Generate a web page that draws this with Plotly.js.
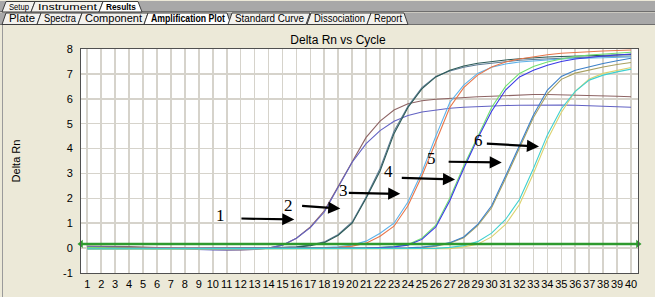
<!DOCTYPE html>
<html>
<head>
<meta charset="utf-8">
<script src="https://cdn.plot.ly/plotly-3.0.1.min.js"></script>
<style>
  html, body { margin:0; padding:0; background:#ECE9D8; }
  #wrap { position:relative; width:655px; height:297px; overflow:hidden; }
  #chart { position:absolute; left:0; top:0; width:655px; height:297px; }
  #chrome { position:absolute; left:0; top:0; pointer-events:none; }
</style>
</head>
<body>
<div id="wrap">
  <div id="chart"></div>
  <svg id="chrome" width="655" height="297" xmlns="http://www.w3.org/2000/svg"></svg>
</div>
<script>
// ---------------- DATA ----------------
const cycles = [1,2,3,4,5,6,7,8,9,10,11,12,13,14,15,16,17,18,19,20,21,22,23,24,25,26,27,28,29,30,31,32,33,34,35,36,37,38,39,40];
const tickLabels = ['1','2','3','4','5','6','7','8','9','10','11','12','13','14','15','16','17','18','19','20','21','22','23','24','25','26','27','28','29','30','31','32','33','34','35','36','37','38','39','40'];

const g1Brown  = [0.08,0.08,0.07,0.06,0.04,0.02,0.00,-0.03,-0.05,-0.06,-0.07,-0.07,-0.05,0.00,0.12,0.40,0.85,1.50,2.50,3.50,4.45,5.10,5.55,5.80,5.92,5.98,6.02,6.05,6.08,6.10,6.13,6.16,6.17,6.17,6.16,6.15,6.14,6.12,6.10,6.08];
const g1Purple = [0.05,0.05,0.04,0.03,0.02,0.00,-0.02,-0.04,-0.06,-0.07,-0.07,-0.06,-0.05,0.00,0.12,0.40,0.82,1.45,2.45,3.45,4.20,4.72,5.10,5.33,5.47,5.56,5.62,5.66,5.69,5.71,5.73,5.74,5.75,5.75,5.75,5.74,5.72,5.70,5.68,5.66];
const g2Dark   = [0.02,0.02,0.01,0.00,-0.01,-0.02,-0.02,-0.02,-0.02,-0.02,-0.01,0.00,0.00,0.01,0.02,0.04,0.10,0.22,0.52,1.00,2.00,3.10,4.60,5.65,6.40,6.88,7.15,7.32,7.43,7.50,7.56,7.61,7.65,7.68,7.70,7.72,7.74,7.76,7.77,7.78];
const g2Slate  = [0.03,0.03,0.02,0.01,0.00,-0.01,-0.02,-0.02,-0.02,-0.01,-0.01,0.00,0.01,0.01,0.03,0.05,0.12,0.25,0.55,1.05,2.05,3.20,4.70,5.70,6.45,6.90,7.12,7.27,7.37,7.44,7.50,7.55,7.58,7.61,7.64,7.66,7.68,7.70,7.71,7.72];
const g3Orange = [0.00,0.00,-0.01,-0.01,-0.02,-0.02,-0.02,-0.02,-0.02,-0.02,-0.02,-0.02,-0.02,-0.02,-0.01,-0.01,0.00,0.01,0.03,0.08,0.20,0.48,0.88,1.70,2.90,4.30,5.65,6.45,6.95,7.28,7.48,7.60,7.70,7.77,7.83,7.87,7.90,7.92,7.94,7.96];
const g3Sky    = [-0.01,-0.01,-0.01,-0.02,-0.02,-0.02,-0.02,-0.02,-0.02,-0.02,-0.02,-0.02,-0.01,-0.01,-0.01,0.00,0.01,0.02,0.05,0.12,0.28,0.60,1.00,1.85,3.05,4.50,5.85,6.55,7.02,7.27,7.40,7.48,7.53,7.57,7.60,7.62,7.64,7.66,7.67,7.68];
const g4Blue   = [-0.02,-0.02,-0.02,-0.02,-0.03,-0.03,-0.03,-0.03,-0.03,-0.03,-0.03,-0.03,-0.03,-0.03,-0.03,-0.03,-0.02,-0.02,-0.02,-0.01,0.00,0.02,0.05,0.12,0.35,0.85,1.90,3.20,4.40,5.50,6.35,6.88,7.15,7.35,7.50,7.60,7.67,7.72,7.76,7.80];
const g4Green  = [0.02,0.02,0.01,0.00,-0.01,-0.02,-0.02,-0.02,-0.02,-0.02,-0.02,-0.02,-0.02,-0.02,-0.02,-0.02,-0.01,-0.01,0.00,0.00,0.01,0.03,0.07,0.15,0.40,0.92,2.00,3.30,4.50,5.65,6.50,7.02,7.30,7.48,7.60,7.70,7.76,7.80,7.84,7.87];
const g5Steel  = [-0.02,-0.02,-0.02,-0.02,-0.02,-0.02,-0.02,-0.02,-0.02,-0.02,-0.02,-0.02,-0.02,-0.02,-0.02,-0.02,-0.02,-0.02,-0.01,-0.01,-0.01,0.00,0.00,0.01,0.04,0.10,0.22,0.45,0.95,1.70,2.90,4.10,5.35,6.35,6.90,7.15,7.30,7.42,7.53,7.63];
const g5Khaki  = [-0.03,-0.03,-0.03,-0.03,-0.03,-0.03,-0.03,-0.03,-0.03,-0.03,-0.03,-0.03,-0.03,-0.03,-0.03,-0.03,-0.03,-0.03,-0.03,-0.02,-0.02,-0.02,-0.01,0.00,0.02,0.08,0.20,0.42,0.90,1.62,2.80,4.00,5.25,6.20,6.78,7.03,7.17,7.28,7.38,7.46];
const g6Cyan   = [-0.03,-0.03,-0.03,-0.03,-0.03,-0.03,-0.03,-0.03,-0.03,-0.03,-0.03,-0.03,-0.03,-0.03,-0.03,-0.03,-0.03,-0.03,-0.03,-0.03,-0.03,-0.03,-0.03,-0.02,-0.02,-0.01,0.03,0.10,0.26,0.60,1.15,1.95,3.20,4.55,5.60,6.30,6.75,6.95,7.08,7.19];
const g6Yellow = [-0.04,-0.04,-0.04,-0.04,-0.04,-0.04,-0.04,-0.04,-0.04,-0.04,-0.04,-0.04,-0.04,-0.04,-0.04,-0.04,-0.04,-0.04,-0.04,-0.04,-0.04,-0.04,-0.04,-0.04,-0.04,-0.03,-0.02,0.05,0.16,0.45,0.95,1.75,3.00,4.35,5.45,6.30,6.80,7.02,7.15,7.26];

const threshold = [0.17, 0.17];
const labels = ['1','2','3','4','5','6'];

// ---------------- STYLE / LAYOUT ----------------
const xRange = [0.55, 40.5];
const yRange = [-1, 8];

const series = [
  {y: g1Brown,  c: '#8E6464'},
  {y: g1Purple, c: '#6262C4'},
  {y: g2Slate,  c: '#5E7C96'},
  {y: g2Dark,   c: '#2C5A56'},
  {y: g3Sky,    c: '#5DB2EA'},
  {y: g3Orange, c: '#E8764A'},
  {y: g4Green,  c: '#6FE06F'},
  {y: g4Blue,   c: '#3A3AE6'},
  {y: g5Khaki,  c: '#A8A060'},
  {y: g5Steel,  c: '#3C80C8'},
  {y: g6Yellow, c: '#DCD270'},
  {y: g6Cyan,   c: '#3ED0D0'}
];

const traces = series.map(s => ({
  x: cycles, y: s.y, type: 'scatter', mode: 'lines',
  line: {color: s.c, width: 1.1}, hoverinfo: 'skip', showlegend: false
}));

traces.push({
  x: xRange, y: threshold, type: 'scatter', mode: 'lines+markers',
  line: {color: '#2E9A2E', width: 2.5},
  marker: {symbol: ['triangle-left','triangle-right'], size: 7, color: '#2E9A2E'},
  cliponaxis: false, hoverinfo: 'skip', showlegend: false
});

// arrow geometry (label position, arrow start, arrow tip) in axis units
const arrowGeom = [
  {lx: 10.58, ly: 1.33, sx: 11.95, sy: 1.19, tx: 15.85, ty: 1.15},
  {lx: 15.41, ly: 1.73, sx: 16.3,  sy: 1.70, tx: 19.15, ty: 1.59},
  {lx: 19.39, ly: 2.31, sx: 19.65, sy: 2.22, tx: 23.45, ty: 2.18},
  {lx: 22.58, ly: 3.06, sx: 23.45, sy: 2.82, tx: 27.38, ty: 2.76},
  {lx: 25.71, ly: 3.60, sx: 26.81, sy: 3.47, tx: 30.73, ty: 3.44},
  {lx: 29.05, ly: 4.34, sx: 29.55, sy: 4.20, tx: 33.40, ty: 4.08}
];

const annotations = [];
arrowGeom.forEach((g, i) => {
  annotations.push({
    x: g.tx, y: g.ty, ax: g.sx, ay: g.sy, xref: 'x', yref: 'y', axref: 'x', ayref: 'y',
    text: '', showarrow: true, arrowhead: 2, arrowsize: 1.1, arrowwidth: 2.2,
    arrowcolor: '#000000', standoff: 0, startstandoff: 0
  });
  annotations.push({
    x: g.lx, y: g.ly, xref: 'x', yref: 'y', text: labels[i], showarrow: false,
    font: {family: 'Liberation Serif, Times New Roman, serif', size: 17, color: '#000'}
  });
});

const layout = {
  width: 655, height: 297,
  margin: {l: 81, r: 17, t: 49, b: 24, pad: 0},
  paper_bgcolor: '#ECE9D8',
  plot_bgcolor: '#FFFFFF',
  font: {family: 'Liberation Sans, Arial, sans-serif', size: 11, color: '#000'},
  title: {
    text: 'Delta Rn vs Cycle', xref: 'container', yref: 'container',
    x: 338/655, xanchor: 'center', y: 1 - 40/297, yanchor: 'middle',
    font: {family: 'Liberation Sans, Arial, sans-serif', size: 12, color: '#000'}
  },
  xaxis: {
    range: xRange, tickmode: 'array', tickvals: cycles, ticktext: tickLabels,
    showgrid: true, gridcolor: '#D6D3CB', gridwidth: 1.6, zeroline: false,
    showline: true, linecolor: '#505050', linewidth: 1, mirror: true,
    ticks: 'outside', ticklen: 1, tickcolor: 'rgba(0,0,0,0)',
    tickfont: {size: 11, color: '#000'}, fixedrange: true, tickangle: 0
  },
  yaxis: {
    range: yRange, tickmode: 'array', tickvals: [-1,0,1,2,3,4,5,6,7,8],
    ticktext: ['-1','0','1','2','3','4','5','6','7','8'],
    showgrid: true, gridcolor: '#D6D3CB', gridwidth: 1.6, zeroline: false,
    showline: true, linecolor: '#505050', linewidth: 1, mirror: true,
    ticks: 'outside', ticklen: 5, tickcolor: 'rgba(0,0,0,0)',
    tickfont: {size: 11, color: '#000'}, fixedrange: true,
    title: {text: 'Delta Rn', font: {size: 11, color: '#000'}, standoff: 40}
  },
  annotations: annotations,
  showlegend: false
};

Plotly.newPlot('chart', traces, layout, {staticPlot: true, displayModeBar: false});

// ---------------- WINDOW CHROME (tabs) ----------------
const svg = document.getElementById('chrome');
const NS = 'http://www.w3.org/2000/svg';
function el(tag, attrs, txt) {
  const e = document.createElementNS(NS, tag);
  for (const k in attrs) e.setAttribute(k, attrs[k]);
  if (txt) e.textContent = txt;
  svg.appendChild(e);
  return e;
}
el('rect', {x:0, y:0, width:655, height:26, fill:'#ECE9D8'});
el('rect', {x:0, y:1, width:655, height:11, fill:'#A8A8A8'});
el('line', {x1:0, y1:11.5, x2:655, y2:11.5, stroke:'#6E6E6E', 'stroke-width':1});
el('rect', {x:0, y:12.5, width:655, height:12.5, fill:'#A8A8A8'});
el('line', {x1:0, y1:24.5, x2:655, y2:24.5, stroke:'#6E6E6E', 'stroke-width':1});
el('line', {x1:2.5, y1:25, x2:2.5, y2:297, stroke:'#9A9A9A', 'stroke-width':1});

const row1 = [
  {t:'Setup', x0:2, x1:31},
  {t:'Instrument', x0:31, x1:99},
  {t:'Results', x0:99, x1:138, active:true}
];
const row2 = [
  {t:'Plate', x0:2, x1:37},
  {t:'Spectra', x0:37, x1:78},
  {t:'Component', x0:78, x1:144},
  {t:'Amplification Plot', x0:144, x1:227, active:true},
  {t:'Standard Curve', x0:228, x1:306},
  {t:'Dissociation', x0:307, x1:367},
  {t:'Report', x0:367, x1:404}
];
function drawRow(row, yt, yb, ty, fs) {
  row.forEach((tb, i) => {
    const last = (i === row.length - 1);
    const pts = tb.active || last
      ? `${tb.x0},${yb} ${tb.x0+4},${yt} ${tb.x1},${yt} ${tb.x1+4},${yb}`
      : `${tb.x0},${yb} ${tb.x0+4},${yt} ${tb.x1+4},${yt} ${tb.x1},${yb}`;
    el('polygon', {points: pts, fill: tb.active ? '#FFFFFF' : '#F3F2EE', stroke:'#3C3C3C', 'stroke-width':1});
  });
  row.forEach(tb => {
    const w = tb.x1 - tb.x0 - 9;
    el('text', {x: tb.x0 + 7, y: ty, textLength: w, lengthAdjust: 'spacingAndGlyphs',
      'font-family':'Liberation Sans, Arial, sans-serif', 'font-size':fs,
      'font-weight': tb.active ? 'bold' : 'normal', fill:'#000'}, tb.t);
  });
}
drawRow(row1, 1.5, 12, 10.2, 9.5);
drawRow(row2, 13, 24.5, 22, 10);
</script>
</body>
</html>
